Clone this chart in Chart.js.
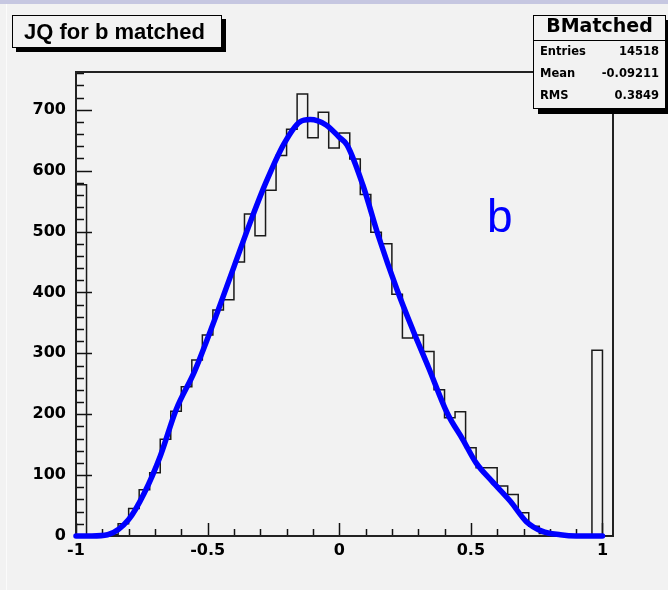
<!DOCTYPE html>
<html>
<head>
<meta charset="utf-8">
<script src="https://cdn.jsdelivr.net/npm/chart.js@4.4.1/dist/chart.umd.min.js"></script>
<style>
body{margin:0;background:#f2f2f2;}
#marco{position:relative;width:668px;height:590px;overflow:hidden;background:#f2f2f2;}
#banda{position:absolute;left:0;top:0;width:668px;height:4px;background:#c6c7e1;}
#borde{position:absolute;left:6px;top:4px;width:1px;height:586px;background:#fbfbfb;}
canvas{position:absolute;left:0;top:0;}
#titulo{position:absolute;left:12px;top:15px;width:210px;height:33px;box-sizing:border-box;border:1px solid #000;background:#f2f2f2;box-shadow:4px 4px 0 #000;font:bold 22px "Liberation Sans",Arial,sans-serif;line-height:31px;padding-left:11px;white-space:nowrap;}
#stats{position:absolute;left:533px;top:15px;width:133px;height:94px;box-sizing:border-box;border:1px solid #000;background:#f2f2f2;box-shadow:5px 5px 0 #000;}
#stats .cab{height:24px;border-bottom:1px solid #000;font:bold 19px "DejaVu Sans",sans-serif;line-height:19px;text-align:center;}
#stats .filas{padding-top:3px;}
#stats .fila{display:flex;justify-content:space-between;padding:0 6px;height:22px;line-height:22px;font:bold 11.5px "DejaVu Sans",sans-serif;}
#letra{position:absolute;left:487px;top:193px;font:46px "Liberation Sans",Arial,sans-serif;line-height:46px;color:#0000ff;}
</style>
</head>
<body>
<div id="marco">
  <div id="banda"></div>
  <div id="borde"></div>
  <canvas id="miGrafica" width="668" height="590"></canvas>
  <div id="titulo">JQ for b matched</div>
  <div id="stats">
    <div class="cab">BMatched</div>
    <div class="filas">
      <div class="fila"><span>Entries</span><span id="sEntries"></span></div>
      <div class="fila"><span>Mean</span><span id="sMean"></span></div>
      <div class="fila"><span>RMS</span><span id="sRms"></span></div>
    </div>
  </div>
  <div id="letra">b</div>
</div>
<script>
// Datos del histograma (51 bins de ancho 0.04 desde -1)
const xMin=-1;
const anchoBin=0.04;
const conteos=[577,0,0,2,20,45,76,104,159,205,
               245,289,330,371,388,450,529,493,568,625,
               668,726,654,696,637,662,619,561,499,480,
               397,325,330,303,240,194,204,145,112,112,
               82,68,38,16,4,1,0,0,0,305,0];

// Curva del ajuste (azul)
const ajusteX=[-1,-0.94,-0.88,-0.8,-0.74,-0.68,-0.62,-0.55,-0.49,-0.4,-0.34,-0.28,-0.21,-0.15,-0.11,-0.05,0,0.03,0.09,0.15,0.22,0.28,0.34,0.41,0.47,0.52,0.58,0.65,0.71,0.77,0.84,0.9,1.0];
const ajusteY=[0,0,2,27,71,131,207,270,336,442,513,579,644,680,684,675,655,642,576,491,404,338,276,202,158,120,90,57,24,8,2,0,0];

// Ejes
const ticksX=[-1,-0.5,0,0.5,1];
const ticksY=[0,100,200,300,400,500,600,700];
const yMax=762;

// Caja de estadisticas
const entradas='14518';
const media='-0.09211';
const rms='0.3849';

document.getElementById('sEntries').textContent=entradas;
document.getElementById('sMean').textContent=media;
document.getElementById('sRms').textContent=rms;

const puntosHist=[{x:xMin,y:0}];
conteos.forEach((v,i)=>{
    puntosHist.push({x:xMin+i*anchoBin,y:v});
});
puntosHist.push({x:xMin+conteos.length*anchoBin,y:conteos[conteos.length-1]});

const puntosAjuste=ajusteX.map((x,i)=>({x:x,y:ajusteY[i]}));

// Marco y marcas hacia adentro, como en ROOT
const marcoRoot={
    id:'marcoRoot',
    beforeDatasetsDraw(chart){
        const {ctx,chartArea:a,scales:{x,y}}=chart;
        ctx.save();
        ctx.strokeStyle='#111';
        ctx.lineWidth=1.5;
        for(let v=0;v<=yMax;v+=20){
            const py=Math.round(y.getPixelForValue(v))+0.5;
            const largo=(v%100===0)?16:8;
            ctx.beginPath();ctx.moveTo(a.left,py);ctx.lineTo(a.left+largo,py);ctx.stroke();
        }
        for(let k=0;k<=20;k++){
            const v=-1+k*0.1;
            const px=Math.round(x.getPixelForValue(v))+0.5;
            const largo=(k%5===0)?13:7;
            ctx.beginPath();ctx.moveTo(px,a.bottom);ctx.lineTo(px,a.bottom-largo);ctx.stroke();
        }
        ctx.lineWidth=2;
        ctx.strokeStyle='#222';
        ctx.strokeRect(a.left,a.top,a.right-a.left,a.bottom-a.top);
        ctx.restore();
    }
};

const fuente={family:'DejaVu Sans',weight:'bold',size:16};

new Chart(document.getElementById('miGrafica'),{
    type:'line',
    data:{
        datasets:[
            {
                data:puntosAjuste,
                borderColor:'#0000ff',
                borderWidth:5.5,
                cubicInterpolationMode:'monotone',
                borderCapStyle:'round',
                borderJoinStyle:'round',
                pointRadius:0,
                clip:6,
                order:0
            },
            {
                data:puntosHist,
                stepped:'before',
                borderColor:'#1a1a1a',
                borderWidth:1.5,
                pointRadius:0,
                fill:false,
                order:1
            }
        ]
    },
    options:{
        responsive:false,
        animation:false,
        layout:{padding:{left:0,top:72,right:55,bottom:0}},
        plugins:{legend:{display:false},tooltip:{enabled:false}},
        scales:{
            x:{
                type:'linear',min:xMin,max:1.04,
                afterBuildTicks:s=>{s.ticks=ticksX.map(v=>({value:v}));},
                afterFit:s=>{s.height=54;},
                grid:{display:false,drawTicks:false},
                border:{display:false},
                ticks:{color:'#000',font:fuente,padding:5,maxRotation:0,autoSkip:false,callback:v=>String(v)}
            },
            y:{
                type:'linear',min:0,max:yMax,
                afterBuildTicks:s=>{s.ticks=ticksY.map(v=>({value:v}));},
                afterFit:s=>{s.width=76;},
                grid:{display:false,drawTicks:false},
                border:{display:false},
                ticks:{color:'#000',font:fuente,padding:10,autoSkip:false,callback:v=>String(v)}
            }
        }
    },
    plugins:[marcoRoot]
});
</script>
</body>
</html>
